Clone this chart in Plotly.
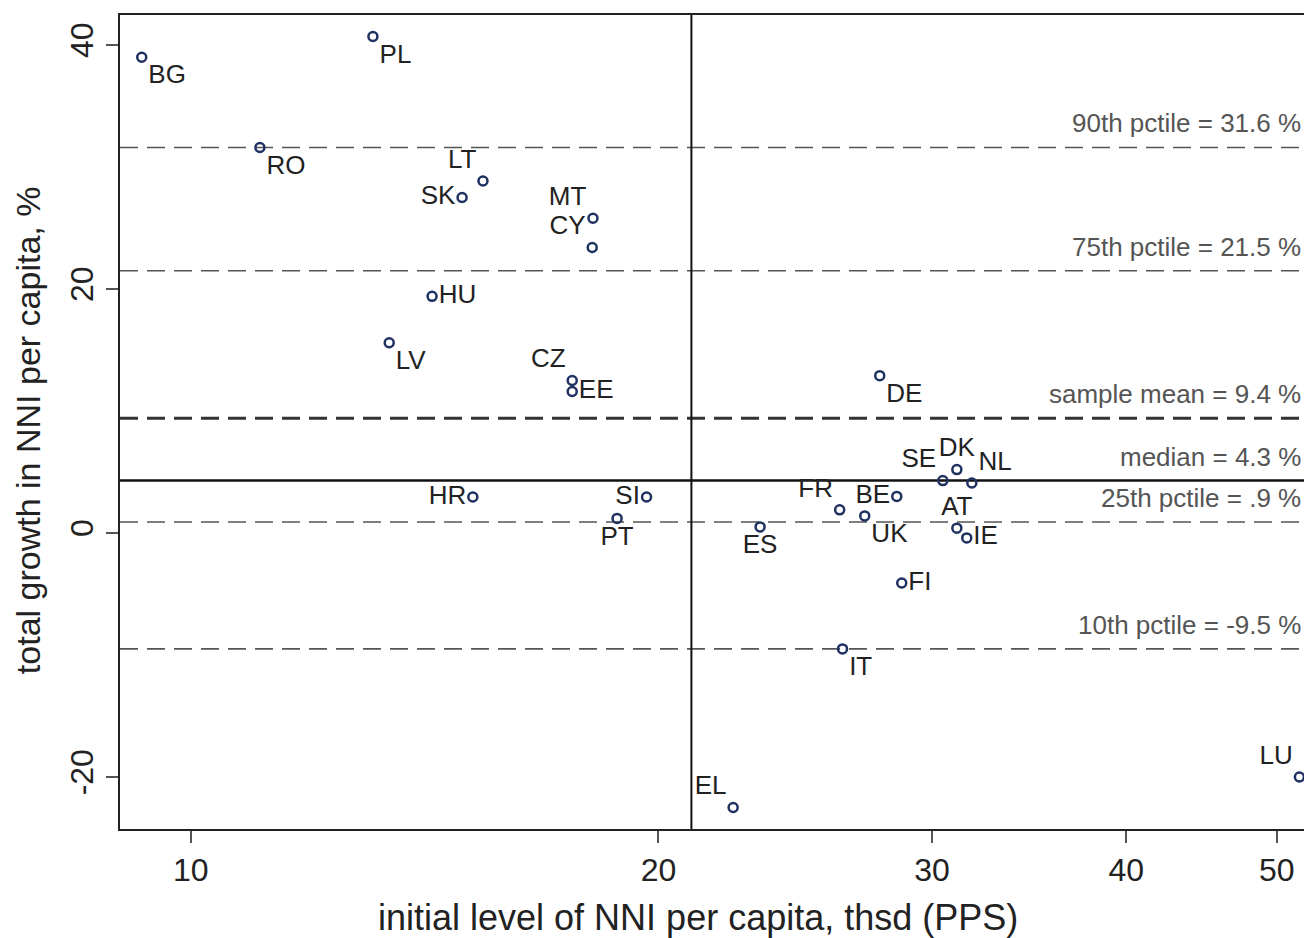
import plotly.graph_objects as go

countries = ["BG", "PL", "RO", "LT", "SK", "MT", "CY", "HU", "LV", "CZ", "EE",
             "HR", "SI", "PT", "ES", "EL", "FR", "BE", "UK", "DE", "SE", "DK",
             "NL", "AT", "IE", "FI", "IT", "LU"]
initial_nni = [9.30, 13.10, 11.08, 15.42, 14.95, 18.15, 18.13, 14.30, 13.42, 17.60, 17.60,
               15.19, 19.65, 18.81, 23.25, 22.34, 26.16, 28.47, 27.15, 27.76, 30.48, 31.12,
               31.82, 31.12, 31.58, 28.68, 26.27, 51.7]
growth = [39.0, 40.7, 31.6, 28.85, 27.5, 25.8, 23.4, 19.4, 15.6, 12.5, 11.6,
          2.95, 2.95, 1.2, 0.5, -22.5, 1.9, 3.0, 1.4, 12.9, 4.3, 5.2,
          4.1, 0.4, -0.4, -4.1, -9.5, -20.0]
label_pos = ["bottom right", "bottom right", "bottom right", "top left", "middle left",
             "top left", "top left", "middle right", "bottom right", "top left", "middle right",
             "middle left", "middle left", "bottom center", "bottom center", "top left",
             "top left", "middle left", "bottom right", "bottom right", "top left", "top center",
             "top right", "top center", "middle right", "middle right", "bottom right", "top left"]

ref_names = ["90th pctile = 31.6 %", "75th pctile = 21.5 %", "sample mean = 9.4 %",
             "median = 4.3 %", "25th pctile = .9 %", "10th pctile = -9.5 %"]
ref_values = [31.6, 21.5, 9.4, 4.3, 0.9, -9.5]
ref_styles = ["dash", "dash", "meandash", "solid", "dash", "dash"]
median_initial = 21.0

x_ticks = [10, 20, 30, 40, 50]
y_ticks = [-20, 0, 20, 40]

x_title = "initial level of NNI per capita, thsd (PPS)"
y_title = "total growth in NNI per capita, %"

FONT = "Liberation Sans, Arial, sans-serif"

fig = go.Figure()

# vertical median of initial level
fig.add_trace(go.Scatter(x=[median_initial, median_initial], y=[-60, 80], mode="lines",
                         line=dict(color="#111111", width=2), hoverinfo="skip",
                         showlegend=False))

fig.add_trace(go.Scatter(
    x=initial_nni, y=growth, mode="markers+text", text=countries,
    textposition=label_pos,
    textfont=dict(family=FONT, size=26, color="#222222"),
    marker=dict(symbol="circle-open", size=9, color="#1f3160",
                line=dict(width=2.5, color="#1f3160")),
    showlegend=False, cliponaxis=False))

shapes = []
annotations = []
for name, val, sty in zip(ref_names, ref_values, ref_styles):
    if sty == "solid":
        line = dict(color="#111111", width=2.5)
    elif sty == "meandash":
        line = dict(color="#333333", width=3, dash="18px,9px")
    else:
        line = dict(color="#555555", width=1.6, dash="18px,9px")
    shapes.append(dict(type="line", xref="paper", x0=0, x1=1, yref="y", y0=val, y1=val,
                       line=line, layer="below"))
    annotations.append(dict(text=name, xref="paper", x=0.9925, xanchor="right",
                            yref="y", y=val, yanchor="middle", yshift=24,
                            showarrow=False,
                            font=dict(family=FONT, size=26, color="#555555")))

annotations.append(dict(text=x_title, xref="paper", x=0.485, xanchor="center",
                        yref="paper", y=0, yanchor="top", yshift=-66, showarrow=False,
                        font=dict(family=FONT, size=36, color="#222222")))
annotations.append(dict(text=y_title, xref="paper", x=0, xanchor="center", xshift=-92,
                        yref="paper", y=0.49, yanchor="middle", textangle=-90,
                        showarrow=False,
                        font=dict(family=FONT, size=34, color="#222222")))

fig.update_layout(
    width=1304, height=930,
    margin=dict(l=112, r=0, t=7, b=109),
    paper_bgcolor="white", plot_bgcolor="white",
    shapes=shapes, annotations=annotations,
    xaxis=dict(type="log", range=[0.9545, 1.7216], tickvals=x_ticks,
               ticktext=[str(v) for v in x_ticks],
               showgrid=False, zeroline=False, showline=True, mirror=True,
               linecolor="#222222", linewidth=2,
               ticks="outside", ticklen=12, tickwidth=2, tickcolor="#555555",
               tickfont=dict(family=FONT, size=32, color="#222222")),
    yaxis=dict(range=[-24.26, 42.46], tickvals=y_ticks,
               ticktext=[str(v) for v in y_ticks],
               showgrid=False, zeroline=False, showline=True, mirror=False,
               linecolor="#222222", linewidth=2,
               ticks="outside", ticklen=12, tickwidth=2, tickcolor="#555555",
               tickangle=-90, ticklabelstandoff=0,
               tickfont=dict(family=FONT, size=32, color="#222222")),
)

fig.write_html("out.html")
